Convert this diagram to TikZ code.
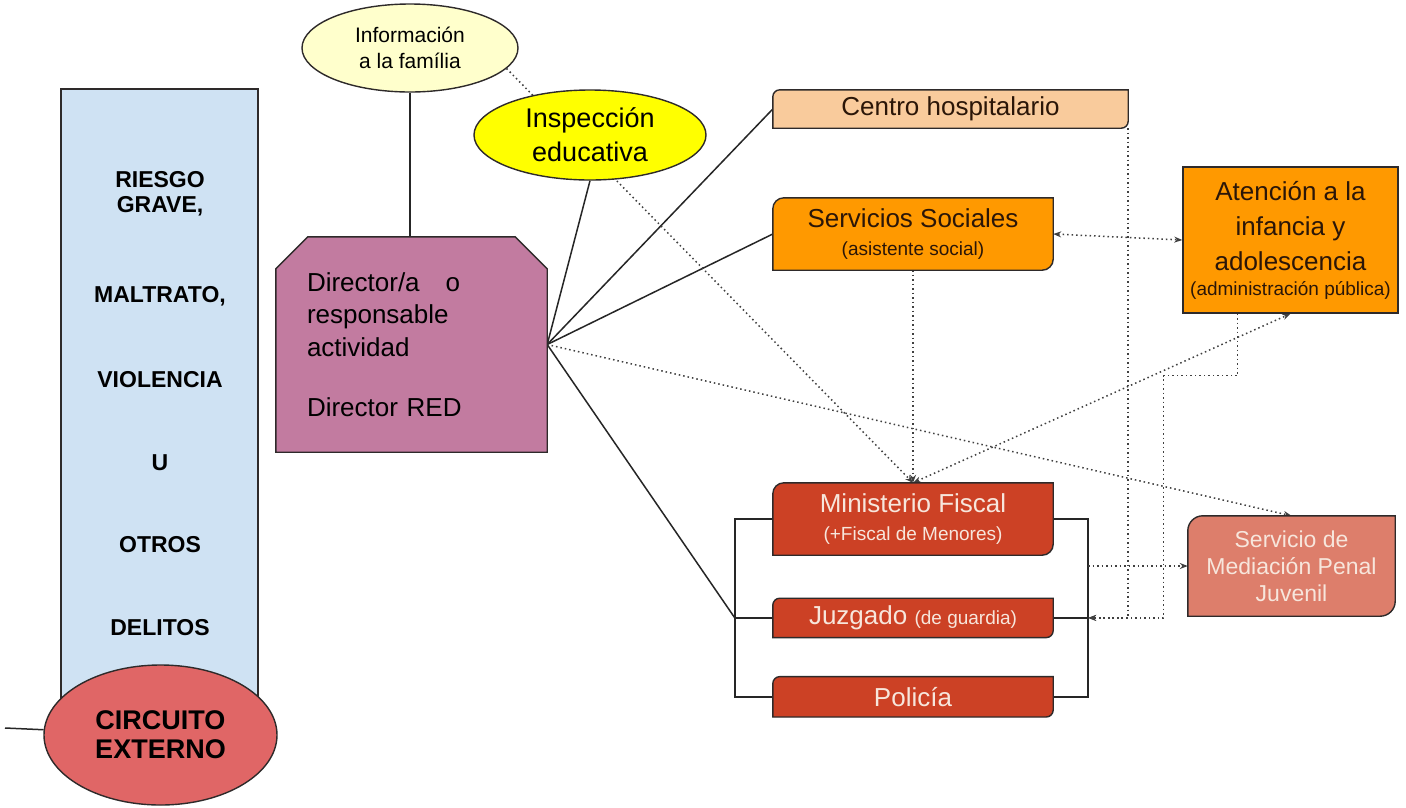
\documentclass[tikz,border=0pt]{standalone}
\usepackage{fontspec}
\setmainfont{Liberation Sans}
\usetikzlibrary{arrows.meta,positioning,calc,backgrounds,shapes.geometric}

\definecolor{riesgofill}{HTML}{CFE2F3}
\definecolor{circfill}{HTML}{E06666}
\definecolor{infofill}{HTML}{FFFFCC}
\definecolor{inspfill}{HTML}{FFFF00}
\definecolor{dirfill}{HTML}{C27BA0}
\definecolor{centrofill}{HTML}{F9CB9C}
\definecolor{orangefill}{HTML}{FF9900}
\definecolor{redfill}{HTML}{CC4125}
\definecolor{medfill}{HTML}{DD7E6B}
\definecolor{edgecol}{HTML}{2E2A2A}
\definecolor{darktext}{HTML}{2B1608}
\definecolor{lighttext}{HTML}{F7E6DC}

\newcommand{\bigfs}{\fontsize{26}{28}\selectfont}
\newcommand{\smallfs}{\fontsize{19}{21}\selectfont}

% box with rounded top-left and bottom-right corners, drawn behind its node
\newcommand{\diagcorners}[3]{%
  \draw[boxedge, fill=#2] (#1.west) [rounded corners=#3] -- (#1.north west) -- (#1.north)
    [sharp corners] -- (#1.north east) -- (#1.east)
    [rounded corners=#3] -- (#1.south east) -- (#1.south)
    [sharp corners] -- (#1.south west) -- cycle;}

\begin{document}
\begin{tikzpicture}[x=1pt, y=-1pt, font=\bigfs,
  boxedge/.style={draw=edgecol, line width=1.4pt},
  box/.style={inner sep=0pt, align=center, minimum width=280pt},
  oval/.style={ellipse, boxedge, inner sep=0pt, align=center},
  line/.style={draw=black!85, line width=1.5pt},
  dots/.style={draw=black!75, line width=1.5pt, dash pattern=on 1.5pt off 3pt},
  dotarrow/.style={dots, -{Stealth[length=8pt, width=6pt]}},
  dotboth/.style={dots, {Stealth[length=8pt, width=6pt]}-{Stealth[length=8pt, width=6pt]}}]
\useasboundingbox (0,0) rectangle (1406,807);

% left column
\node[boxedge, fill=riesgofill, minimum width=197pt, minimum height=615pt] (riesgo) at (159.5,396.5) {};
\node[font=\fontsize{23}{25}\selectfont\bfseries, align=center] (riesgotxt) at (160,404)
  {RIESGO\\GRAVE,\\[65pt]MALTRATO,\\[60pt]VIOLENCIA\\[58pt]U\\[57pt]OTROS\\[58pt]DELITOS};
\node[oval, fill=circfill, minimum width=233pt, minimum height=140pt, font=\fontsize{27}{29}\selectfont\bfseries] (circuito) at (160.5,735) {CIRCUITO\\EXTERNO};
\coordinate (cext) at (5,728);

% director and the two ovals above it
\node[inner sep=0pt, inner xsep=31pt, text width=209pt, minimum height=215pt, align=left, font=\fontsize{26}{32.5}\selectfont] (dir) at (411.5,344.5)
  {Director/a\ \ \ o\\responsable\\actividad\\[28pt]Director RED};
\node[oval, fill=infofill, minimum width=216pt, minimum height=88pt, font=\fontsize{21}{26}\selectfont] (info) at (410,48) {Información\\a la família};
\node[oval, fill=inspfill, minimum width=232pt, minimum height=90pt, font=\fontsize{27}{34}\selectfont] (insp) at (590,135) {Inspección\\educativa};

% right side
\node[box, minimum width=355pt, minimum height=38pt, text=darktext] (centro) at (950.5,109) {Centro hospitalario};
\node[box, minimum height=72pt, text=darktext] (sociales) at (913,234) {Servicios Sociales\\{\smallfs (asistente social)}};
\node[boxedge, fill=orangefill, inner sep=0pt, minimum width=215pt, minimum height=146pt, align=center, text=darktext, font=\fontsize{26}{35}\selectfont] (atencion) at (1290.5,240)
  {Atención a la\\infancia y\\adolescencia\\[-10pt]{\smallfs (administración pública)}};
\node[box, minimum height=72pt, text=lighttext] (fiscal) at (913,519) {Ministerio Fiscal\\{\smallfs (+Fiscal de Menores)}};
\node[box, minimum height=39pt, text=lighttext, below=43pt of fiscal] (juzgado) {Juzgado {\smallfs (de guardia)}};
\node[box, minimum height=40pt, text=lighttext, below=39pt of juzgado] (policia) {Policía};
\node[box, minimum width=207pt, minimum height=100pt, text=lighttext, font=\fontsize{23}{27}\selectfont] (mediacion) at (1291.5,566) {Servicio de\\Mediación Penal\\Juvenil};
\coordinate (bl) at ([xshift=-38pt]juzgado.west);
\coordinate (br) at ([xshift=35pt]juzgado.east);

\begin{scope}[on background layer]
\fill[white] (0,0) rectangle (1406,807);
% solid links
\draw[line] (info.south) -- (info.south |- dir.north);
\draw[line] (dir.east) -- (insp.south);
\draw[line] (dir.east) -- (centro.west);
\draw[line] (dir.east) -- (sociales.west);
\draw[line] (dir.east) -- (bl);
\draw[line] (fiscal.west) -| (bl) |- (policia.west);
\draw[line] (juzgado.west) -- (bl);
\draw[line] (fiscal.east) -| (br) |- (policia.east);
\draw[line] (juzgado.east) -- (br);
\draw[line] (cext) -- (circuito);
% dotted links
\draw[dotarrow] (info.-12) -- (fiscal.north);
\draw[dotarrow] (sociales.south) -- (fiscal.north);
\draw[dotboth] (fiscal.north) -- (atencion.south);
\draw[dotboth] (sociales.east) -- (atencion.west);
\draw[dotarrow] (dir.east) -- (mediacion.north);
\draw[dotarrow] (centro.south east) |- (br);
\draw[dotarrow] ([xshift=-53pt]atencion.south) -- ++(0,62) -- ++(-74,0) |- (br);
\draw[dotarrow] (br |- mediacion.west) -- (mediacion.west);
% box outlines
\draw[boxedge, fill=dirfill] ([yshift=-32pt]dir.north west) -- ([xshift=32pt]dir.north west)
  -- ([xshift=-32pt]dir.north east) -- ([yshift=-32pt]dir.north east) -- (dir.south east) -- (dir.south west) -- cycle;
\diagcorners{centro}{centrofill}{7pt}
\diagcorners{sociales}{orangefill}{11pt}
\diagcorners{fiscal}{redfill}{11pt}
\diagcorners{juzgado}{redfill}{7pt}
\diagcorners{policia}{redfill}{7pt}
\diagcorners{mediacion}{medfill}{15pt}
\end{scope}
\end{tikzpicture}
\end{document}
